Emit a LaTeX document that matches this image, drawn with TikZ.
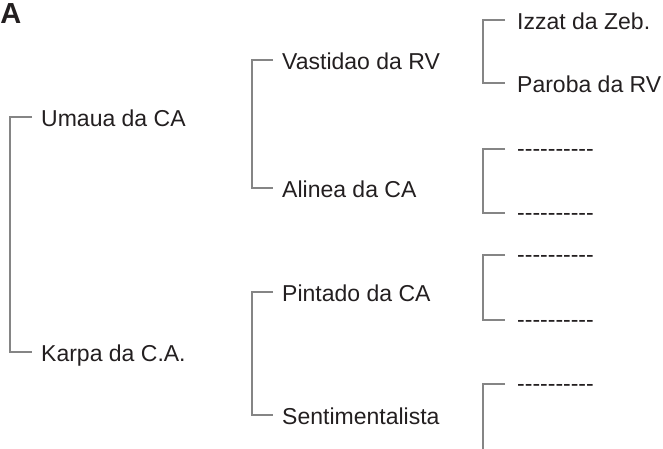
\documentclass[tikz,border=0pt]{standalone}
\usepackage{fontspec}
\setmainfont{Liberation Sans}
\definecolor{txt}{HTML}{231F20}
\definecolor{ln}{HTML}{858585}
\newcommand\onehy{\mbox{-}}
\newcommand\tenhy{\onehy\onehy\onehy\onehy\onehy\onehy\onehy\onehy\onehy\onehy}
\begin{document}
\begin{tikzpicture}[x=1pt,y=-1pt,
  lbl/.style={anchor=west,inner sep=0pt,text height=19pt,text depth=0pt,
    font=\fontsize{23}{23}\selectfont,text=txt},
  dsh/.style={lbl,yshift=2pt},
  brk/.style={draw=ln,line width=1.5pt}]
\useasboundingbox (0,0) rectangle (663,448);
\node[anchor=base west,inner sep=0pt,font=\fontsize{29}{29}\selectfont\bfseries,text=txt] (A) at (0.3,23.5) {A};
% level 1
\node[lbl] (u) at (41,117) {Umaua da CA};
\node[lbl] (k) at (41,352) {Karpa da C.A.};
% level 2
\node[lbl] (v) at (282,60) {Vastidao da RV};
\node[lbl] (al) at (282,188) {Alinea da CA};
\node[lbl] (p) at (282,292) {Pintado da CA};
\node[lbl] (s) at (282,415) {Sentimentalista};
% level 3
\node[lbl] (iz) at (517,20) {Izzat da Zeb.};
\node[lbl] (pa) at (517,83) {Paroba da RV};
\node[dsh] (d1) at (517,149) {\tenhy};
\node[dsh] (d2) at (517,213) {\tenhy};
\node[dsh] (d3) at (517,255) {\tenhy};
\node[dsh] (d4) at (517,320) {\tenhy};
\node[dsh] (d5) at (517,384) {\tenhy};
\coordinate (d6) at (517,460);
% brackets
\draw[brk] ([xshift=-9pt]u.west) -| ([xshift=-31pt]u.west) |- ([xshift=-9pt]k.west);
\draw[brk] ([xshift=-9pt]v.west) -| ([xshift=-30pt]v.west) |- ([xshift=-9pt]al.west);
\draw[brk] ([xshift=-9pt]p.west) -| ([xshift=-30pt]p.west) |- ([xshift=-9pt]s.west);
\draw[brk] ([xshift=-12pt]iz.west) -| ([xshift=-34pt]iz.west) |- ([xshift=-12pt]pa.west);
\draw[brk] ([xshift=-12pt,yshift=-2pt]d1.west) -| ([xshift=-34pt,yshift=-2pt]d1.west) |- ([xshift=-12pt,yshift=-2pt]d2.west);
\draw[brk] ([xshift=-12pt,yshift=-2pt]d3.west) -| ([xshift=-34pt,yshift=-2pt]d3.west) |- ([xshift=-12pt,yshift=-2pt]d4.west);
\draw[brk] ([xshift=-12pt,yshift=-2pt]d5.west) -| ([xshift=-34pt,yshift=-2pt]d5.west) -- ([xshift=-34pt]d6);
\end{tikzpicture}
\end{document}
